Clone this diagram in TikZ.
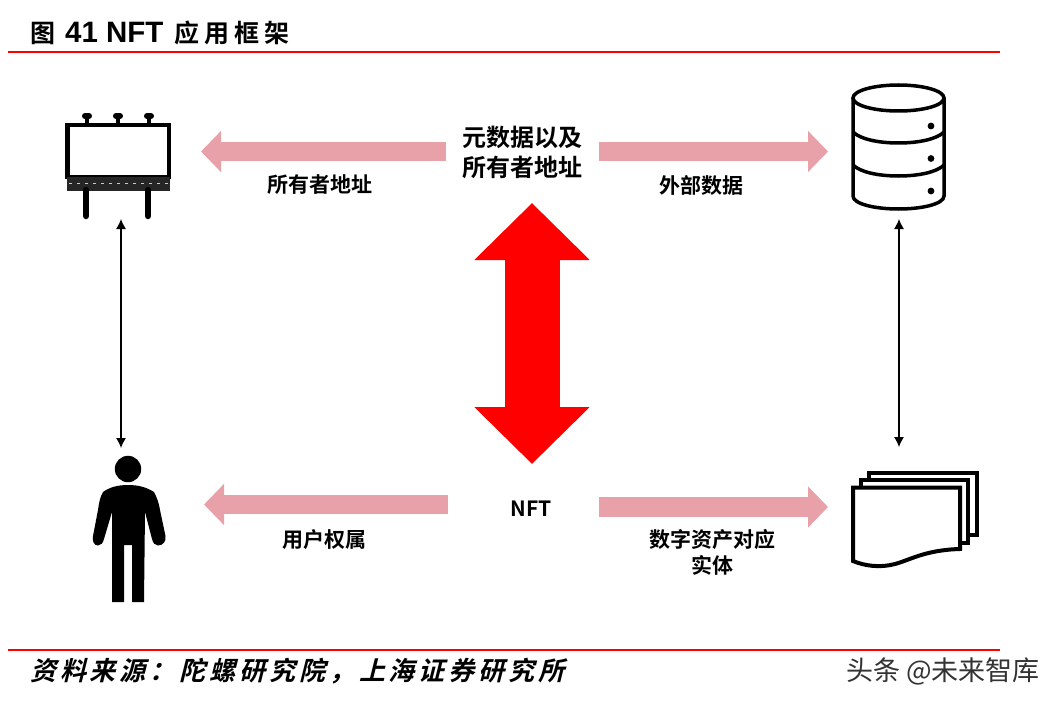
\documentclass[tikz,border=0pt]{standalone}
\usepackage{fontspec}
\usetikzlibrary{arrows.meta}
\setmainfont{Liberation Sans}
\newfontfamily\cjk{Noto Sans CJK SC}[BoldFont={Noto Sans CJK SC Bold}]
\newfontfamily\cjkslant{Noto Sans CJK SC Bold}[FakeSlant=0.25,LetterSpace=15]
\newfontfamily\cjkspaced{Noto Sans CJK SC Bold}[LetterSpace=20]
\definecolor{pinkarrow}{HTML}{E8A1A9}
\tikzset{
 x=1pt,y=-1pt,
 rulebar/.style={draw=red,line width=2pt},
 lab/.style={font=\cjk\bfseries\fontsize{21}{25.5}\selectfont,align=center,inner sep=0pt,text=black},
 biglab/.style={font=\cjk\bfseries\fontsize{24}{30}\selectfont,align=center,inner sep=0pt,text=black},
 blockarrow/.style={draw=pinkarrow,line width=19.5pt,-{Triangle[width=40pt,length=20pt,fill=pinkarrow]}},
 redarrow/.style={draw=red,line width=55pt,{Triangle[width=112pt,length=57pt,fill=red]}-{Triangle[width=112pt,length=57pt,fill=red]}},
 linkarrow/.style={draw=black,line width=1.2pt,{Latex[length=10pt,width=10pt]}-{Latex[length=10pt,width=10pt]}},
 icon/.style={draw=black,line width=4pt,fill=white},
}
\begin{document}
\begin{tikzpicture}
\useasboundingbox (0,0) rectangle (1060,706);
\fill[white] (0,0) rectangle (1060,706);
% title and rules
\node[anchor=west,inner sep=0pt] (title) at (30,33) {\cjkspaced\fontsize{25}{30}\selectfont 图\hspace{10pt}{\fontspec{Liberation Sans}\bfseries\fontsize{29.5}{30}\selectfont 41 NFT}\hspace{11pt}应用框架};
\coordinate (r1a) at (8,52.5); \coordinate (r1b) at (1000,52.5);
\coordinate (r2a) at (8,650); \coordinate (r2b) at (1000,650);
\draw[rulebar] (r1a) -- (r1b);
\draw[rulebar] (r2a) -- (r2b);
\node[anchor=west,inner sep=0pt] (source) at (30,671) {\cjkslant\fontsize{26}{30}\selectfont 资料来源：陀螺研究院，上海证券研究所};
\node[anchor=east,inner sep=0pt,text=black!80] (mark) at (1040,671) {\cjk\fontsize{27}{30}\selectfont 头条 @未来智库};
% labels
\node[biglab] (meta) at (522.5,152) {元数据以及\\所有者地址};
\node[lab] (nft) at (531.5,509) {NFT};
\node[lab] (owner) at (320,185) {所有者地址};
\node[lab] (ext) at (701,185) {外部数据};
\node[lab] (user) at (324.5,540) {用户权属};
\node[lab] (asset) at (712,552.5) {数字资产对应\\实体};
% block arrows
\coordinate (a1s) at (446,151.5); \coordinate (a1e) at (201,151.5);
\coordinate (a2s) at (599,151.5); \coordinate (a2e) at (828,151.5);
\coordinate (a3s) at (448,504.5); \coordinate (a3e) at (204,504.5);
\coordinate (a4s) at (599,507); \coordinate (a4e) at (828,507);
\draw[blockarrow] (a1s) -- (a1e);
\draw[blockarrow] (a2s) -- (a2e);
\draw[blockarrow] (a3s) -- (a3e);
\draw[blockarrow] (a4s) -- (a4e);
\coordinate (rt) at (532,203); \coordinate (rb) at (532,464);
\draw[redarrow] (rt) -- (rb);
% thin links
\coordinate (l1t) at (121,219); \coordinate (l1b) at (121,448);
\coordinate (l2t) at (899,219); \coordinate (l2b) at (899,447);
\draw[linkarrow] (l1t) -- (l1b);
\draw[linkarrow] (l2t) -- (l2b);
% billboard
\draw[black,line width=3.5pt] (87,115) -- (87,125) (118,115) -- (118,125) (149,115) -- (149,125);
\draw[black,line width=6pt,line cap=round] (85,116) -- (89,116) (116,116) -- (120,116) (147,116) -- (151,116);
\draw[black,line width=4.5pt] (67.5,125) rectangle (169,177);
\fill[black!85] (67,177) rectangle (170,191);
\draw[white!80!black,line width=1.6pt,dash pattern=on 3pt off 5pt] (69,183.5) -- (168,183.5);
\draw[black,line width=6.5pt,line cap=round] (86,190) -- (86,216) (148,190) -- (148,216);
% database
\begin{scope}[line width=3.5pt,draw=black]
\draw (853,98) -- (853,196) .. controls (853,204) and (875,209) .. (898.5,209) .. controls (922,209) and (944,204) .. (944,196) -- (944,98);
\draw (898.5,98) ellipse [x radius=45.5,y radius=13];
\draw (853,132) .. controls (860,139) and (878,143) .. (898.5,143) .. controls (919,143) and (937,139) .. (944,132);
\draw (853,165) .. controls (860,172) and (878,176) .. (898.5,176) .. controls (919,176) and (937,172) .. (944,165);
\end{scope}
\fill[black] (931,126) circle (3.4) (931,158.5) circle (3.4) (931,191) circle (3.4);
% documents
\draw[icon] (869,472.5) rectangle (977,535);
\draw[icon] (861,480) rectangle (968,543);
\draw[icon] (853,487.5) -- (960,487.5) -- (960,549) .. controls (925,550) and (910,560) .. (895,564) .. controls (880,568) and (865,566) .. (853,561) -- cycle;
% person
\fill[black] (128,469) circle (13.2);
\fill[black] (128,485) .. controls (138,485) and (146,487) .. (154,492) .. controls (157,498) and (159,503) .. (160,510) -- (165.5,536) .. controls (166.5,541) and (163,545.5) .. (158,545.5) .. controls (155,545.5) and (153,543) .. (152,539) -- (145,512) -- (144,602) -- (132,602) -- (132,545) -- (124,545) -- (124,602) -- (112,602) -- (112,512) -- (104,539) .. controls (103,543) and (101,545.5) .. (98,545.5) .. controls (94,545.5) and (92,541) .. (93,536) -- (98,510) .. controls (99,503) and (100,497) .. (103,492) .. controls (110,487) and (118,485) .. (128,485) -- cycle;
\end{tikzpicture}
\end{document}
